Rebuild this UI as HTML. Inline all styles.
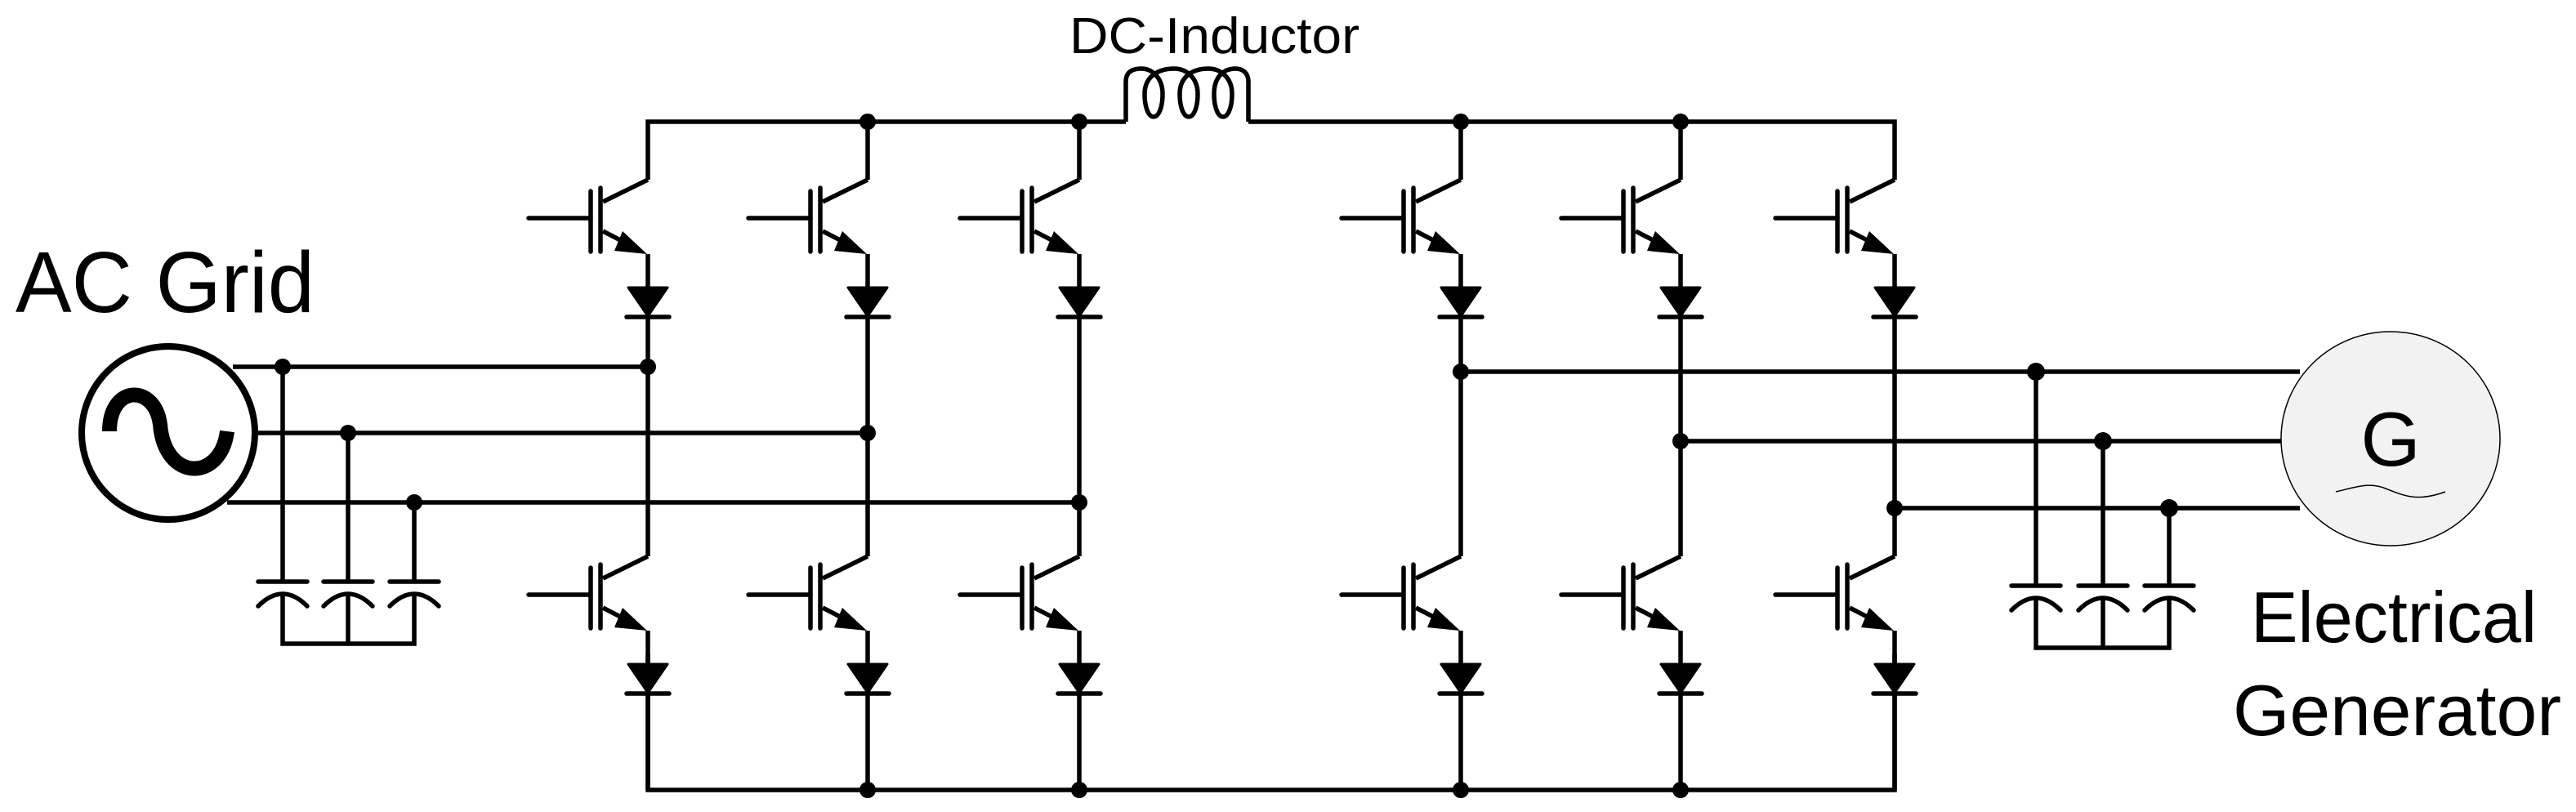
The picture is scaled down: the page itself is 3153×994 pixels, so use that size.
<!DOCTYPE html>
<html><head><meta charset="utf-8"><style>
html,body{margin:0;padding:0;background:#fff;}
svg{display:block;}
text{font-family:"Liberation Sans",sans-serif;fill:#000;}
</style></head><body>
<svg width="3153" height="994" viewBox="0 0 3153 994" xmlns="http://www.w3.org/2000/svg">
<defs>
<g id="sw" stroke="#000" stroke-width="5.5" fill="none" stroke-linecap="round">
  <line x1="0" y1="0" x2="-55" y2="27" stroke-linecap="butt"/>
  <line x1="-58" y1="10" x2="-58" y2="88"/>
  <line x1="-70" y1="14" x2="-70" y2="88"/>
  <line x1="-146" y1="47" x2="-70" y2="47"/>
  <line x1="-55" y1="63" x2="-20" y2="81" stroke-linecap="butt"/>
  <polygon points="-31,63 -41,87 -1,91" fill="#000" stroke="none"/>
  <polygon points="-24,132 24,132 0,167" fill="#000" stroke="#000" stroke-width="3" stroke-linejoin="round"/>
  <line x1="-26" y1="168" x2="26" y2="168"/>
</g>
</defs>

<g stroke="#000" stroke-width="5.5" fill="none">
  <!-- top rail -->
  <polyline points="793,220 793,149 1378,149"/>
  <polyline points="1528,149 2319,149 2319,220"/>
  <!-- inductor -->
  <path d="M1378,149 V100 C1378,88 1386,84 1397,84 C1410,84 1423,95 1423,115 C1423,132 1418,143 1412,143 C1406,143 1401,132 1401,115 C1401,92 1420,84 1437,84 C1452,84 1466,95 1466,115 C1466,132 1461,143 1455,143 C1449,143 1444,132 1444,115 C1444,92 1462,84 1479,84 C1494,84 1508,95 1508,115 C1508,132 1503,143 1497,143 C1491,143 1486,132 1486,115 C1486,92 1500,84 1512,84 C1522,84 1528,90 1528,100 V149"/>
  <!-- bottom rail -->
  <polyline points="793,800 793,967 2319,967 2319,800"/>
  <!-- leg verticals -->
  <line x1="1062" y1="149" x2="1062" y2="220"/>
  <line x1="1321" y1="149" x2="1321" y2="220"/>
  <line x1="1788" y1="149" x2="1788" y2="220"/>
  <line x1="2057" y1="149" x2="2057" y2="220"/>
  <line x1="793" y1="311" x2="793" y2="681"/>
  <line x1="1062" y1="311" x2="1062" y2="681"/>
  <line x1="1321" y1="311" x2="1321" y2="681"/>
  <line x1="1788" y1="311" x2="1788" y2="681"/>
  <line x1="2057" y1="311" x2="2057" y2="681"/>
  <line x1="2319" y1="311" x2="2319" y2="681"/>
  <line x1="793" y1="772" x2="793" y2="967"/>
  <line x1="1062" y1="772" x2="1062" y2="967"/>
  <line x1="1321" y1="772" x2="1321" y2="967"/>
  <line x1="1788" y1="772" x2="1788" y2="967"/>
  <line x1="2057" y1="772" x2="2057" y2="967"/>
  <line x1="2319" y1="772" x2="2319" y2="967"/>
  <!-- left phase lines -->
  <line x1="285" y1="449" x2="793" y2="449"/>
  <line x1="314" y1="530" x2="1062" y2="530"/>
  <line x1="278" y1="615" x2="1321" y2="615"/>
  <!-- right phase lines -->
  <line x1="1788" y1="455" x2="2815" y2="455"/>
  <line x1="2057" y1="540" x2="2795" y2="540"/>
  <line x1="2319" y1="622" x2="2815" y2="622"/>
  <!-- left caps -->
  <line x1="346" y1="449" x2="346" y2="712"/>
  <line x1="426" y1="530" x2="426" y2="712"/>
  <line x1="507" y1="615" x2="507" y2="712"/>
  <polyline points="346,728 346,788 507,788 507,728"/>
  <line x1="426" y1="728" x2="426" y2="788"/>
  <!-- right caps -->
  <line x1="2492" y1="455" x2="2492" y2="717"/>
  <line x1="2574" y1="540" x2="2574" y2="717"/>
  <line x1="2655" y1="622" x2="2655" y2="717"/>
  <polyline points="2492,733 2492,793 2655,793 2655,733"/>
  <line x1="2574" y1="733" x2="2574" y2="793"/>
</g>
<g stroke="#000" stroke-width="5.5" fill="none" stroke-linecap="round">
  <line x1="316" y1="712" x2="376" y2="712"/><path d="M316,742 Q346,712 376,742"/>
  <line x1="396" y1="712" x2="456" y2="712"/><path d="M396,742 Q426,712 456,742"/>
  <line x1="477" y1="712" x2="537" y2="712"/><path d="M477,742 Q507,712 537,742"/>
  <line x1="2462" y1="717" x2="2522" y2="717"/><path d="M2462,747 Q2492,717 2522,747"/>
  <line x1="2544" y1="717" x2="2604" y2="717"/><path d="M2544,747 Q2574,717 2604,747"/>
  <line x1="2625" y1="717" x2="2685" y2="717"/><path d="M2625,747 Q2655,717 2685,747"/>
</g>

<!-- switches -->
<use href="#sw" transform="translate(793,220)"/>
<use href="#sw" transform="translate(1062,220)"/>
<use href="#sw" transform="translate(1321,220)"/>
<use href="#sw" transform="translate(1788,220)"/>
<use href="#sw" transform="translate(2057,220)"/>
<use href="#sw" transform="translate(2319,220)"/>
<use href="#sw" transform="translate(793,681)"/>
<use href="#sw" transform="translate(1062,681)"/>
<use href="#sw" transform="translate(1321,681)"/>
<use href="#sw" transform="translate(1788,681)"/>
<use href="#sw" transform="translate(2057,681)"/>
<use href="#sw" transform="translate(2319,681)"/>

<!-- dots -->
<g fill="#000">
  <circle cx="1062" cy="149" r="10"/><circle cx="1321" cy="149" r="10"/>
  <circle cx="1788" cy="149" r="10"/><circle cx="2057" cy="149" r="10"/>
  <circle cx="1062" cy="967" r="10"/><circle cx="1321" cy="967" r="10"/>
  <circle cx="1788" cy="967" r="10"/><circle cx="2057" cy="967" r="10"/>
  <circle cx="793" cy="449" r="10"/><circle cx="1062" cy="530" r="10"/><circle cx="1321" cy="615" r="10"/>
  <circle cx="1788" cy="455" r="10"/><circle cx="2057" cy="540" r="10"/><circle cx="2319" cy="622" r="10"/>
  <circle cx="346" cy="449" r="10"/><circle cx="426" cy="530" r="10"/><circle cx="507" cy="615" r="10"/>
  <circle cx="2492" cy="455" r="11"/><circle cx="2574" cy="540" r="11"/><circle cx="2655" cy="622" r="11"/>
</g>

<!-- AC grid source -->
<ellipse cx="206" cy="530" rx="106" ry="106" fill="#fff" stroke="#000" stroke-width="8"/>
<path d="M134,528 C134,470 190,470 196,520 C202,590 270,590 278,528" fill="none" stroke="#000" stroke-width="18"/>

<!-- generator -->
<ellipse cx="2926" cy="537" rx="134" ry="131" fill="#f2f2f2" stroke="#000" stroke-width="1.5"/>
<path d="M2859,602 C2885,596 2900,590 2920,598 C2945,608 2960,614 2993,602" fill="none" stroke="#000" stroke-width="1.5"/>
<text x="2926" y="570" font-size="94" text-anchor="middle">G</text>

<!-- labels -->
<text x="19" y="382" font-size="106" textLength="366" lengthAdjust="spacingAndGlyphs">AC Grid</text>
<text x="1309" y="65" font-size="62" textLength="355" lengthAdjust="spacingAndGlyphs">DC-Inductor</text>
<text x="2755" y="786" font-size="88" textLength="350" lengthAdjust="spacingAndGlyphs">Electrical</text>
<text x="2733" y="900" font-size="88" textLength="402" lengthAdjust="spacingAndGlyphs">Generator</text>
</svg>
</body></html>
